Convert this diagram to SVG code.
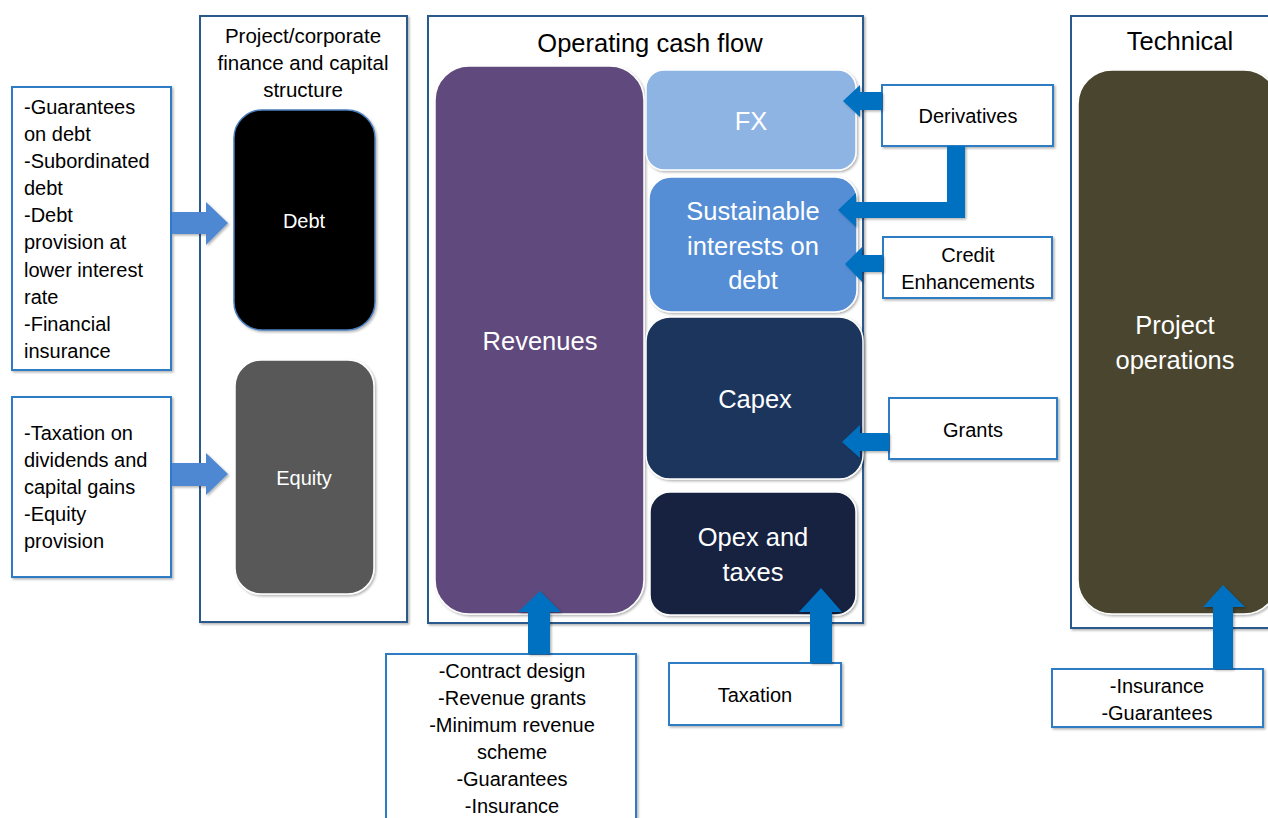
<svg xmlns="http://www.w3.org/2000/svg" width="1268" height="818" viewBox="0 0 1268 818">
<defs>
<filter id="sh" x="-5%" y="-5%" width="115%" height="115%">
<feDropShadow dx="1.5" dy="1.5" stdDeviation="1.2" flood-color="#000" flood-opacity="0.3"/>
</filter>
</defs>
<style>
.cont{fill:#fff;stroke:#2C5A8C;stroke-width:2;filter:url(#sh)}
.box{fill:#fff;stroke:#2E7BC4;stroke-width:2;filter:url(#sh)}
.node{stroke:#fff;stroke-width:1.5;filter:url(#sh)}
.t{font-family:"Liberation Sans",Arial,sans-serif;fill:#000}
.s{font-size:20px}
.c{text-anchor:middle}
.w{fill:#fff}
.big{font-size:25.5px}
.arr{fill:#0070C0}
.arrl{fill:#4F88D2}
</style>
<rect width="1268" height="818" fill="#fff"/>

<g id="container-finance">
<rect class="cont" x="200" y="16" width="207" height="606"/>
<text class="t c" font-size="20.5" x="303" y="43">Project/corporate</text>
<text class="t c" font-size="20.5" x="303" y="70">finance and capital</text>
<text class="t c" font-size="20.5" x="303" y="97">structure</text>
</g>
<g id="container-ocf">
<rect class="cont" x="428" y="16" width="435" height="607"/>
<text class="t c big" x="650" y="52">Operating cash flow</text>
</g>
<g id="container-technical">
<rect class="cont" x="1071" y="16" width="210" height="612"/>
<text class="t c big" x="1180" y="50">Technical</text>
</g>

<g id="debt">
<rect x="234" y="110" width="141" height="220" rx="28" fill="#000" stroke="#4A7FC0" stroke-width="1.5" filter="url(#sh)"/>
<text class="t c w" font-size="20" x="304" y="228">Debt</text>
</g>
<g id="equity">
<rect class="node" x="235" y="360" width="139" height="234" rx="26" fill="#595959"/>
<text class="t c w" font-size="20" x="304" y="485">Equity</text>
</g>
<g id="revenues">
<rect class="node" x="435" y="66" width="209" height="548" rx="34" fill="#604A7B"/>
<text class="t c w big" x="540" y="350">Revenues</text>
</g>
<g id="fx">
<rect class="node" x="646" y="70" width="210" height="100" rx="18" fill="#8EB4E3"/>
<text class="t c w big" x="751" y="130">FX</text>
</g>
<g id="sustainable">
<rect class="node" x="649" y="177" width="208" height="135" rx="22" fill="#558ED5"/>
<text class="t c w big" x="753" y="220">Sustainable</text>
<text class="t c w big" x="753" y="255">interests on</text>
<text class="t c w big" x="753" y="289">debt</text>
</g>
<g id="capex">
<rect class="node" x="646" y="317" width="217" height="162" rx="24" fill="#1B365D"/>
<text class="t c w big" x="755" y="408">Capex</text>
</g>
<g id="opex">
<rect class="node" x="650" y="492" width="206" height="123" rx="20" fill="#12233F"/>
<text class="t c w big" x="753" y="546">Opex and</text>
<text class="t c w big" x="753" y="581">taxes</text>
</g>
<g id="project-operations">
<rect class="node" x="1078" y="70" width="200" height="544" rx="34" fill="#4A452D"/>
<text class="t c w big" x="1175" y="334">Project</text>
<text class="t c w big" x="1175" y="369">operations</text>
</g>

<g id="debt-instruments">
<rect class="box" x="12" y="87" width="159" height="283"/>
<text class="t s" x="24" y="114">-Guarantees</text>
<text class="t s" x="24" y="141">on debt</text>
<text class="t s" x="24" y="168">-Subordinated</text>
<text class="t s" x="24" y="195">debt</text>
<text class="t s" x="24" y="222">-Debt</text>
<text class="t s" x="24" y="249">provision at</text>
<text class="t s" x="24" y="277">lower interest</text>
<text class="t s" x="24" y="304">rate</text>
<text class="t s" x="24" y="331">-Financial</text>
<text class="t s" x="24" y="358">insurance</text>
</g>
<g id="equity-instruments">
<rect class="box" x="12" y="397" width="159" height="180"/>
<text class="t s" x="24" y="440">-Taxation on</text>
<text class="t s" x="24" y="467">dividends and</text>
<text class="t s" x="24" y="494">capital gains</text>
<text class="t s" x="24" y="521">-Equity</text>
<text class="t s" x="24" y="548">provision</text>
</g>
<g id="derivatives">
<rect class="box" x="882" y="85" width="171" height="61"/>
<text class="t s c" x="968" y="123">Derivatives</text>
</g>
<g id="credit-enhancements">
<rect class="box" x="883" y="237" width="169" height="61"/>
<text class="t s c" x="968" y="262">Credit</text>
<text class="t s c" x="968" y="289">Enhancements</text>
</g>
<g id="grants">
<rect class="box" x="889" y="398" width="168" height="61"/>
<text class="t s c" x="973" y="437">Grants</text>
</g>
<g id="revenue-instruments">
<rect class="box" x="386" y="654" width="250" height="170"/>
<text class="t s c" x="512" y="678">-Contract design</text>
<text class="t s c" x="512" y="705">-Revenue grants</text>
<text class="t s c" x="512" y="732">-Minimum revenue</text>
<text class="t s c" x="512" y="759">scheme</text>
<text class="t s c" x="512" y="786">-Guarantees</text>
<text class="t s c" x="512" y="813">-Insurance</text>
</g>
<g id="taxation">
<rect class="box" x="669" y="663" width="172" height="62"/>
<text class="t s c" x="755" y="702">Taxation</text>
</g>
<g id="technical-instruments">
<rect class="box" x="1052" y="669" width="211" height="58"/>
<text class="t s c" x="1157" y="693">-Insurance</text>
<text class="t s c" x="1157" y="720">-Guarantees</text>
</g>

<g id="connectors">
<polygon class="arrl" filter="url(#sh)" points="172,212 206,212 206,202 228,223 206,245 206,234 172,234"/>
<polygon class="arrl" filter="url(#sh)" points="172,463 206,463 206,453 228,474 206,495 206,486 172,486"/>
<polygon class="arr" filter="url(#sh)" points="882,92 860,92 860,85 843,101 860,117 860,110 882,110"/>
<polygon class="arr" filter="url(#sh)" points="947,146 965,146 965,218 856,218 856,227 838,210 856,193 856,202 947,202"/>
<polygon class="arr" filter="url(#sh)" points="883,255 862,255 862,247 845,264 862,282 862,272 883,272"/>
<polygon class="arr" filter="url(#sh)" points="889,433 860,433 860,425 842,442 860,458 860,451 889,451"/>
<polygon class="arr" filter="url(#sh)" points="528,654 528,612 518,612 540,591 561,612 550,612 550,654"/>
<polygon class="arr" filter="url(#sh)" points="810,663 810,612 799,612 821,588 842,612 832,612 832,663"/>
<polygon class="arr" filter="url(#sh)" points="1213,669 1213,607 1203,607 1223,585 1245,607 1233,607 1233,669"/>
</g>
</svg>
